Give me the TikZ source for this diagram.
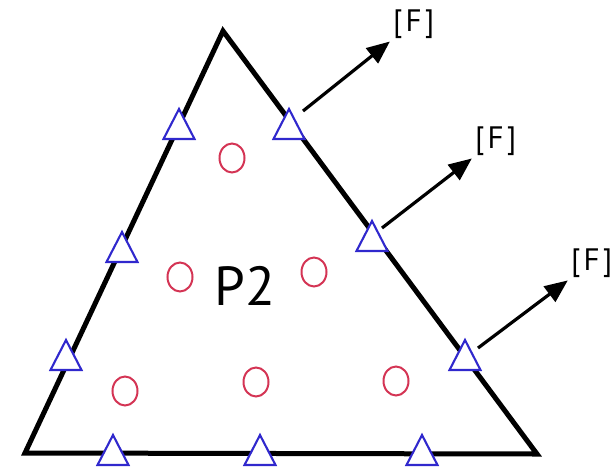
\documentclass[tikz,border=0pt]{standalone}
\usepackage{fontspec}
\setmainfont{PT Sans}
\usetikzlibrary{arrows.meta}
\definecolor{mkblue}{RGB}{48,40,205}
\definecolor{ptred}{RGB}{212,52,84}
\begin{document}
\begin{tikzpicture}[x=1pt,y=-1pt,
  edge/.style={line width=5pt,line join=miter},
  force/.style={line width=3.2pt,-{Triangle[length=23pt,width=19pt]},shorten >=4pt},
  flabel/.style={inner sep=0pt,anchor=south west,font=\fontsize{31}{32}\selectfont\addfontfeatures{LetterSpace=10}},
  mk/.pic={\draw[mkblue,line width=2.1pt,line join=miter,fill=white] (0,-20) -- (15.5,10) -- (-15.5,10) -- cycle;},
]
\useasboundingbox (0,0) rectangle (615,469);
% main triangle
\coordinate (A) at (223,31);
\coordinate (BL) at (25,453);
\coordinate (BR) at (537,454);
\draw[edge] (A) -- (BR) -- (BL) -- cycle;
% interior points
\foreach \n/\x/\y in {c1/232/158, c2/180/277, c3/314/272, c4/125/391, c5/256/382, c6/396/381}
  \draw[ptred,line width=2pt] (\x,\y) ellipse [x radius=12.5, y radius=14.5];
% edge markers
\foreach \n/\x/\y in {L1/179/129, L2/122/252, L3/66/360, R1/289/129, R2/372/241, R3/465/360, B1/113/455, B2/260/455, B3/422/455}
  {\coordinate (\n) at (\x,\y); \pic at (\n) {mk};}
% label
\node[inner sep=0pt,font=\fontsize{55}{57}\selectfont] (P2) at (245,286) {P2};
% forces
\node[flabel] (F1) at (393,39) {[F]};
\node[flabel] (F2) at (475,156) {[F]};
\node[flabel] (F3) at (571,278) {[F]};
\coordinate (s1) at (303,111);
\coordinate (s2) at (382,228);
\coordinate (s3) at (478,348);
\draw[force] (s1) -- (F1.south west);
\draw[force] (s2) -- (F2.south west);
\draw[force] (s3) -- (F3.south west);
\end{tikzpicture}
\end{document}
